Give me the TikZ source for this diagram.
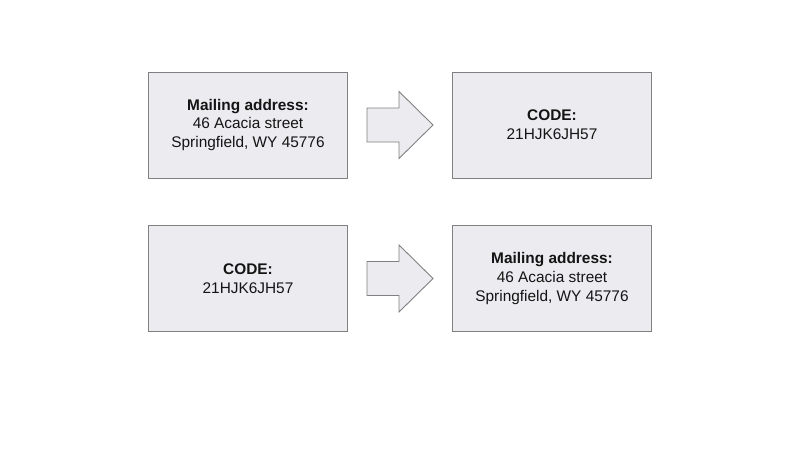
\documentclass[tikz,border=0pt]{standalone}
\usepackage{fontspec}
\setmainfont{Liberation Sans}
\usetikzlibrary{positioning}
\definecolor{boxfill}{RGB}{236,236,240}
\definecolor{boxline}{RGB}{128,128,128}
\definecolor{ink}{RGB}{20,20,20}

\begin{document}
\begin{tikzpicture}[x=1pt,y=-1pt,
  card/.style={draw=boxline,fill=boxfill,line width=0.9pt,minimum width=199pt,
    minimum height=106pt,inner sep=0pt,align=center,text=ink,
    font=\fontsize{15.4}{18.7}\selectfont},
  blockarrow/.style={draw=boxline,fill=boxfill,line width=0.9pt,line join=miter}]
  \useasboundingbox (0,0) rectangle (800,450);

  % first row: address to code
  \node[card] (addrA) at (248,125) {\textbf{Mailing address:}\\46 Acacia street\\Springfield, WY 45776};
  \node[card] (codeA) at (552,125) {\textbf{CODE:}\\21HJK6JH57};
  \coordinate (arrA) at (367,125);
  \draw[blockarrow] (arrA) ++(0,-17) -- ++(32,0) -- ++(0,-16.5) -- ++(34,33.5)
    -- ++(-34,33.5) -- ++(0,-16.5) -- ++(-32,0) -- cycle;

  % second row: code to address
  \node[card] (codeB) at (248,278.5) {\textbf{CODE:}\\21HJK6JH57};
  \node[card] (addrB) at (552,278.5) {\textbf{Mailing address:}\\46 Acacia street\\Springfield, WY 45776};
  \coordinate (arrB) at (367,278.5);
  \draw[blockarrow] (arrB) ++(0,-17) -- ++(32,0) -- ++(0,-16.5) -- ++(34,33.5)
    -- ++(-34,33.5) -- ++(0,-16.5) -- ++(-32,0) -- cycle;
\end{tikzpicture}
\end{document}
